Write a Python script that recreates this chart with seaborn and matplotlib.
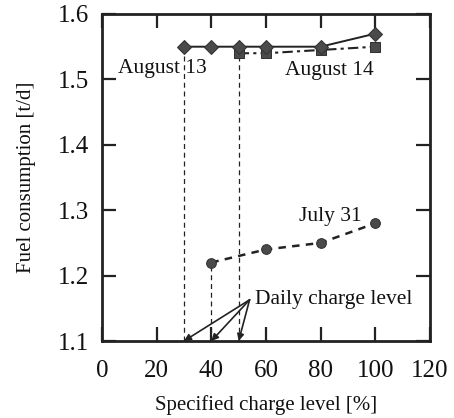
import matplotlib
matplotlib.use("Agg")
import matplotlib.pyplot as plt
import seaborn as sns
import pandas as pd

sns.set_theme(style="ticks")
plt.rcParams['font.family'] = ['Liberation Serif', 'DejaVu Serif']

aug13_x = [30, 40, 50, 60, 80, 100]
aug13_y = [1.55, 1.55, 1.55, 1.55, 1.55, 1.57]
aug14_x = [50, 60, 80, 100]
aug14_y = [1.54, 1.54, 1.545, 1.55]
jul31_x = [40, 60, 80, 100]
jul31_y = [1.22, 1.24, 1.25, 1.28]
x_ticks = [0, 20, 40, 60, 80, 100, 120]
y_ticks = [1.1, 1.2, 1.3, 1.4, 1.5, 1.6]
daily_levels = [30, 40, 50]
daily_tops = [1.55, 1.22, 1.54]

df13 = pd.DataFrame({"x": aug13_x, "y": aug13_y})
df14 = pd.DataFrame({"x": aug14_x, "y": aug14_y})
df31 = pd.DataFrame({"x": jul31_x, "y": jul31_y})

fig = plt.figure(figsize=(4.54, 4.18), dpi=100)
ax = fig.add_axes([102/454, 1 - 341/418, (430-102)/454, (341-14)/418])

mc = "#4a4a4a"
for xv, yt in zip(daily_levels, daily_tops):
    ax.plot([xv, xv], [1.1, yt], color="#222222", lw=0.9, ls=(0, (4, 3)), zorder=1)

sns.lineplot(data=df13, x="x", y="y", ax=ax, color="#222222", lw=1.4,
             marker="D", markersize=7.5, markerfacecolor=mc, markeredgecolor="#333333", zorder=3)
sns.lineplot(data=df14, x="x", y="y", ax=ax, color="#222222", lw=1.5,
             marker="s", markersize=6.5, markerfacecolor=mc, markeredgecolor="#333333",
             zorder=2)
ax.lines[-1].set_linestyle((0, (5, 2, 1.5, 2)))
sns.lineplot(data=df31, x="x", y="y", ax=ax, color="#222222", lw=1.8,
             marker="o", markersize=7, markerfacecolor=mc, markeredgecolor="#333333", zorder=3)
ax.lines[-1].set_linestyle((0, (3, 2.5)))

ax.set_xlim(0, 120)
ax.set_ylim(1.1, 1.6)
ax.set_xticks(x_ticks)
ax.set_yticks(y_ticks)
ax.set_xticklabels([str(t) for t in x_ticks], fontsize=18)
ax.set_yticklabels([f"{t:.1f}" for t in y_ticks], fontsize=18)
ax.tick_params(direction="in", length=10, width=1.6, top=True, right=True, colors="#222222")
ax.tick_params(axis="x", pad=14, labelcolor="#111111")
ax.tick_params(axis="y", pad=9, labelcolor="#111111")
for s in ax.spines.values():
    s.set_linewidth(2)
    s.set_color("#222222")
ax.set_xlabel("Specified charge level [%]", fontsize=15, labelpad=9, color="#111111")
ax.set_ylabel("Fuel consumption [t/d]", fontsize=15, labelpad=16, color="#111111")

ax.text(6, 1.517, "August 13", fontsize=15.5, ha="left", va="center", color="#111111")
ax.text(67, 1.514, "August 14", fontsize=15.5, ha="left", va="center", color="#111111")
ax.text(72, 1.29, "July 31", fontsize=15.5, ha="left", va="center", color="#111111")
ax.text(56, 1.164, "Daily charge level", fontsize=15.5, ha="left", va="center", color="#111111")
for xv in daily_levels:
    ax.annotate("", xy=(xv, 1.1), xytext=(54, 1.163),
                arrowprops=dict(arrowstyle="-|>", color="#222222", lw=1.2,
                                shrinkA=0, shrinkB=0, mutation_scale=10))

fig.savefig("out.png", dpi=100)
